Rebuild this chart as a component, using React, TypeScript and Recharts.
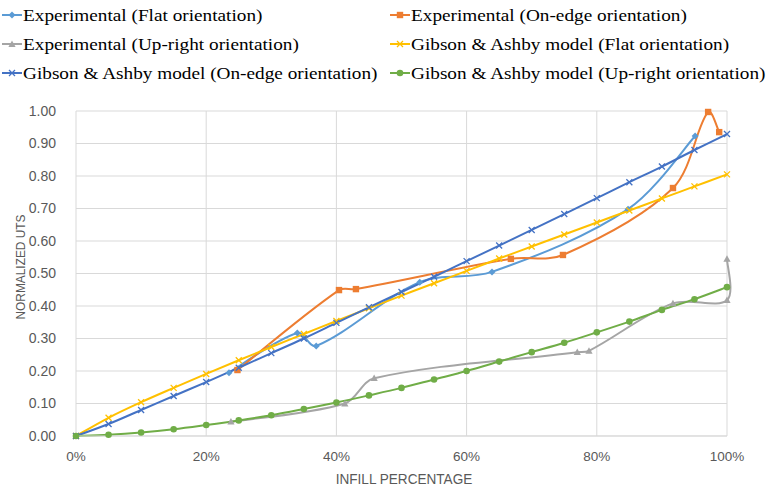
import React from 'react';
import { LineChart, Line, XAxis, YAxis, CartesianGrid } from 'recharts';

if (typeof document !== 'undefined') document.body.style.margin = '0';

type Pt = { x: number; y: number };

const xTicks = [0, 0.2, 0.4, 0.6, 0.8, 1.0];
const yTicks = [0, 0.1, 0.2, 0.3, 0.4, 0.5, 0.6, 0.7, 0.8, 0.9, 1.0];

const expFlat: Pt[] = [
  { x: 0.235, y: 0.195 }, { x: 0.34, y: 0.317 }, { x: 0.369, y: 0.277 },
  { x: 0.528, y: 0.473 }, { x: 0.639, y: 0.505 }, { x: 0.848, y: 0.698 },
  { x: 0.951, y: 0.923 },
];
const expOnEdge: Pt[] = [
  { x: 0.248, y: 0.203 }, { x: 0.404, y: 0.449 }, { x: 0.43, y: 0.452 },
  { x: 0.668, y: 0.545 }, { x: 0.748, y: 0.557 }, { x: 0.917, y: 0.763 },
  { x: 0.971, y: 0.997 }, { x: 0.988, y: 0.935 },
];
const expUpright: Pt[] = [
  { x: 0.238, y: 0.044 }, { x: 0.413, y: 0.1 }, { x: 0.458, y: 0.178 },
  { x: 0.77, y: 0.258 }, { x: 0.788, y: 0.262 }, { x: 0.917, y: 0.408 },
  { x: 1.0, y: 0.418 }, { x: 1.0, y: 0.545 },
];
const gaFlat: Pt[] = [
  { x: 0, y: 0 }, { x: 0.05, y: 0.056 }, { x: 0.1, y: 0.104 }, { x: 0.15, y: 0.148 },
  { x: 0.2, y: 0.191 }, { x: 0.25, y: 0.233 }, { x: 0.3, y: 0.274 }, { x: 0.35, y: 0.314 },
  { x: 0.4, y: 0.354 }, { x: 0.45, y: 0.393 }, { x: 0.5, y: 0.432 }, { x: 0.55, y: 0.47 },
  { x: 0.6, y: 0.508 }, { x: 0.65, y: 0.546 }, { x: 0.7, y: 0.583 }, { x: 0.75, y: 0.62 },
  { x: 0.8, y: 0.657 }, { x: 0.85, y: 0.694 }, { x: 0.9, y: 0.731 }, { x: 0.95, y: 0.768 },
  { x: 1.0, y: 0.805 },
];
const gaOnEdge: Pt[] = [
  { x: 0, y: 0 }, { x: 0.05, y: 0.037 }, { x: 0.1, y: 0.08 }, { x: 0.15, y: 0.123 },
  { x: 0.2, y: 0.166 }, { x: 0.25, y: 0.21 }, { x: 0.3, y: 0.255 }, { x: 0.35, y: 0.3 },
  { x: 0.4, y: 0.348 }, { x: 0.45, y: 0.396 }, { x: 0.5, y: 0.443 }, { x: 0.55, y: 0.49 },
  { x: 0.6, y: 0.538 }, { x: 0.65, y: 0.586 }, { x: 0.7, y: 0.634 }, { x: 0.75, y: 0.683 },
  { x: 0.8, y: 0.732 }, { x: 0.85, y: 0.781 }, { x: 0.9, y: 0.829 }, { x: 0.95, y: 0.88 },
  { x: 1.0, y: 0.929 },
];
const gaUpright: Pt[] = [
  { x: 0, y: 0 }, { x: 0.05, y: 0.004 }, { x: 0.1, y: 0.011 }, { x: 0.15, y: 0.021 },
  { x: 0.2, y: 0.034 }, { x: 0.25, y: 0.048 }, { x: 0.3, y: 0.064 }, { x: 0.35, y: 0.083 },
  { x: 0.4, y: 0.103 }, { x: 0.45, y: 0.125 }, { x: 0.5, y: 0.148 }, { x: 0.55, y: 0.174 },
  { x: 0.6, y: 0.2 }, { x: 0.65, y: 0.229 }, { x: 0.7, y: 0.258 }, { x: 0.75, y: 0.287 },
  { x: 0.8, y: 0.319 }, { x: 0.85, y: 0.352 }, { x: 0.9, y: 0.388 }, { x: 0.95, y: 0.421 },
  { x: 1.0, y: 0.458 },
];

const C = {
  flat: '#5B9BD5',
  onEdge: '#ED7D31',
  upright: '#A5A5A5',
  gaFlat: '#FFC000',
  gaOnEdge: '#4472C4',
  gaUpright: '#70AD47',
};

// Excel-like smoothing: chord-length scaled Catmull-Rom as cubic Bezier
function smoothCurve(context: any) {
  let xs: number[] = [];
  let ys: number[] = [];
  return {
    areaStart() {},
    areaEnd() {},
    lineStart() { xs = []; ys = []; },
    point(x: number, y: number) { xs.push(+x); ys.push(+y); },
    lineEnd() {
      const n = xs.length;
      if (n === 0) return;
      context.moveTo(xs[0], ys[0]);
      if (n === 1) return;
      const d: number[] = [];
      for (let i = 0; i < n - 1; i++) d.push(Math.hypot(xs[i + 1] - xs[i], ys[i + 1] - ys[i]) || 1e-6);
      const tx: number[] = [];
      const ty: number[] = [];
      for (let i = 0; i < n; i++) {
        const ip = i > 0 ? i - 1 : i;
        const inx = i < n - 1 ? i + 1 : i;
        const dp = i > 0 ? d[i - 1] : d[0];
        const dn = i < n - 1 ? d[i] : d[n - 2];
        const den = dp + dn;
        tx.push((xs[inx] - xs[ip]) / den);
        ty.push((ys[inx] - ys[ip]) / den);
      }
      for (let i = 0; i < n - 1; i++) {
        const L = d[i] / 3;
        const c1x = xs[i] + tx[i] * L;
        const c1y = ys[i] + ty[i] * L;
        const c2x = xs[i + 1] - tx[i + 1] * L;
        const c2y = ys[i + 1] - ty[i + 1] * L;
        context.bezierCurveTo(c1x, c1y, c2x, c2y, xs[i + 1], ys[i + 1]);
      }
    },
  };
}

type Shape = 'diamond' | 'square' | 'triangle' | 'cross' | 'circle';

function Marker({ shape, color, cx, cy }: { shape: Shape; color: string; cx: number; cy: number }) {
  if (shape === 'diamond') {
    const s = 3.5;
    return <path d={`M${cx},${cy - s}L${cx + s},${cy}L${cx},${cy + s}L${cx - s},${cy}Z`} fill={color} />;
  }
  if (shape === 'square') {
    const s = 3.2;
    return <rect x={cx - s} y={cy - s} width={2 * s} height={2 * s} fill={color} />;
  }
  if (shape === 'triangle') {
    const s = 3.6;
    return <path d={`M${cx},${cy - s}L${cx + s},${cy + s * 0.8}L${cx - s},${cy + s * 0.8}Z`} fill={color} />;
  }
  if (shape === 'cross') {
    const s = 3;
    return (
      <path d={`M${cx - s},${cy - s}L${cx + s},${cy + s}M${cx + s},${cy - s}L${cx - s},${cy + s}`} stroke={color} strokeWidth={1.3} fill="none" />
    );
  }
  return <circle cx={cx} cy={cy} r={3.3} fill={color} />;
}

function makeDot(shape: Shape, color: string) {
  return (props: any) => {
    const { cx, cy, index } = props;
    if (cx == null || cy == null) return <g key={`n-${index}`} />;
    return (
      <g key={`d-${index}`}>
        <Marker shape={shape} color={color} cx={cx} cy={cy} />
      </g>
    );
  };
}

const legendItems: { label: string; color: string; shape: Shape }[] = [
  { label: 'Experimental (Flat orientation)', color: C.flat, shape: 'diamond' },
  { label: 'Experimental (On-edge orientation)', color: C.onEdge, shape: 'square' },
  { label: 'Experimental (Up-right orientation)', color: C.upright, shape: 'triangle' },
  { label: 'Gibson & Ashby model (Flat orientation)', color: C.gaFlat, shape: 'cross' },
  { label: 'Gibson & Ashby model (On-edge orientation)', color: C.gaOnEdge, shape: 'cross' },
  { label: 'Gibson & Ashby model (Up-right orientation)', color: C.gaUpright, shape: 'circle' },
];

function LegendIcon({ color, shape }: { color: string; shape: Shape }) {
  return (
    <svg width={20} height={12} style={{ display: 'block', flex: '0 0 20px', marginRight: 1 }}>
      <line x1={0} y1={6} x2={20} y2={6} stroke={color} strokeWidth={2} />
      <Marker shape={shape} color={color} cx={10} cy={6} />
    </svg>
  );
}

const fmtPct = (v: number) => `${Math.round(v * 100)}%`;
const fmtNum = (v: number) => v.toFixed(2);

export default function App() {
  return (
    <div style={{ position: 'relative', width: 771, height: 491, background: '#fff', overflow: 'hidden' }}>
      <div style={{ position: 'absolute', left: 0, top: 0 }}>
        <LineChart width={771} height={491} margin={{ top: 111, right: 44, bottom: 25, left: 0 }}>
          <CartesianGrid stroke="#D9D9D9" strokeWidth={1} />
          <XAxis
            dataKey="x"
            type="number"
            domain={[0, 1]}
            ticks={xTicks}
            tickFormatter={fmtPct}
            axisLine={{ stroke: '#D9D9D9' }}
            tickLine={false}
            tickMargin={9}
            height={30}
            tick={{ fill: '#595959', fontSize: 13.5, fontFamily: 'Liberation Sans, Arial, sans-serif' }}
            allowDuplicatedCategory={false}
          />
          <YAxis
            type="number"
            domain={[0, 1]}
            ticks={yTicks}
            tickFormatter={fmtNum}
            axisLine={false}
            tickLine={false}
            tickMargin={14}
            width={76}
            tick={{ fill: '#595959', fontSize: 14, fontFamily: 'Liberation Sans, Arial, sans-serif' }}
          />
          <Line data={expFlat} dataKey="y" type={smoothCurve as any} stroke={C.flat} strokeWidth={2} dot={makeDot('diamond', C.flat)} isAnimationActive={false} />
          <Line data={expOnEdge} dataKey="y" type={smoothCurve as any} stroke={C.onEdge} strokeWidth={2} dot={makeDot('square', C.onEdge)} isAnimationActive={false} />
          <Line data={expUpright} dataKey="y" type={smoothCurve as any} stroke={C.upright} strokeWidth={2} dot={makeDot('triangle', C.upright)} isAnimationActive={false} />
          <Line data={gaFlat} dataKey="y" type={smoothCurve as any} stroke={C.gaFlat} strokeWidth={2} dot={makeDot('cross', C.gaFlat)} isAnimationActive={false} />
          <Line data={gaOnEdge} dataKey="y" type={smoothCurve as any} stroke={C.gaOnEdge} strokeWidth={2} dot={makeDot('cross', C.gaOnEdge)} isAnimationActive={false} />
          <Line data={gaUpright} dataKey="y" type={smoothCurve as any} stroke={C.gaUpright} strokeWidth={2} dot={makeDot('circle', C.gaUpright)} isAnimationActive={false} />
        </LineChart>
      </div>

      <div
        style={{
          position: 'absolute',
          left: 2,
          top: 3,
          display: 'grid',
          gridTemplateColumns: '388px auto',
          rowGap: 5,
          fontFamily: '"Liberation Serif", "Times New Roman", serif',
          fontSize: 17.5,
          color: '#000',
          lineHeight: '24px',
        }}
      >
        {legendItems.map((it) => (
          <div key={it.label} style={{ display: 'flex', alignItems: 'center', whiteSpace: 'nowrap' }}>
            <LegendIcon color={it.color} shape={it.shape} />
            <span style={{ display: 'inline-block', transform: 'scaleX(1.1)', transformOrigin: 'left center' }}>
              {it.label}
            </span>
          </div>
        ))}
      </div>

      <div
        style={{
          position: 'absolute',
          left: 404 - 100,
          width: 200,
          top: 470,
          textAlign: 'center',
          fontFamily: 'Liberation Sans, Arial, sans-serif',
          fontSize: 14,
          color: '#595959',
          lineHeight: '18px',
          whiteSpace: 'nowrap',
          transform: 'scaleX(0.97)',
        }}
      >
        INFILL PERCENTAGE
      </div>
      <div
        style={{
          position: 'absolute',
          left: 21 - 100,
          top: 267 - 9,
          width: 200,
          textAlign: 'center',
          transform: 'rotate(-90deg) scaleX(0.88)',
          fontFamily: 'Liberation Sans, Arial, sans-serif',
          fontSize: 13.5,
          color: '#595959',
          lineHeight: '18px',
          whiteSpace: 'nowrap',
        }}
      >
        NORMALIZED UTS
      </div>
    </div>
  );
}
